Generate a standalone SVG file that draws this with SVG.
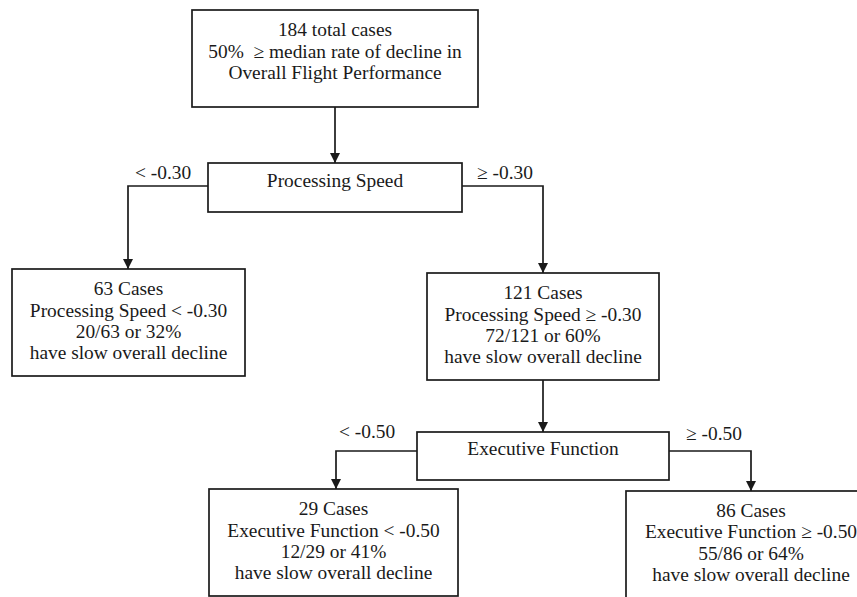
<svg xmlns="http://www.w3.org/2000/svg" width="857" height="597" viewBox="0 0 857 597">
<style>
  .box { fill: #ffffff; stroke: #1a1a1a; stroke-width: 1.7; }
  .t { font-family: "Liberation Serif", "Times New Roman", serif; font-size: 19.4px; fill: #1a1a1a; text-anchor: middle; }
  .lbl { font-family: "Liberation Serif", "Times New Roman", serif; font-size: 19.4px; fill: #1a1a1a; text-anchor: start; }
  .edge { fill: none; stroke: #1a1a1a; stroke-width: 1.7; marker-end: url(#arrow); }
</style>
<defs>
  <marker id="arrow" viewBox="0 0 10 10" refX="10" refY="5" markerWidth="10" markerHeight="10" markerUnits="userSpaceOnUse" orient="auto">
    <path d="M0,0 L10,5 L0,10 Z" fill="#1a1a1a"/>
  </marker>
</defs>
<rect width="857" height="597" fill="#ffffff"/>

<g id="connectors">
  <path class="edge" d="M335,107 L335,163"/>
  <path class="edge" d="M208,186 L128,186 L128,269"/>
  <path class="edge" d="M462,186 L543,186 L543,273"/>
  <path class="edge" d="M543,380 L543,432"/>
  <path class="edge" d="M417,451 L336,451 L336,489"/>
  <path class="edge" d="M669,451 L751,451 L751,491"/>
  <text class="lbl" x="135" y="179">&lt; -0.30</text>
  <text class="lbl" x="477" y="179">≥ -0.30</text>
  <text class="lbl" x="339" y="438">&lt; -0.50</text>
  <text class="lbl" x="686" y="440">≥ -0.50</text>
</g>

<g id="root">
  <rect class="box" x="192" y="10" width="286" height="97"/>
  <text class="t" x="335" y="36">184 total cases</text>
  <text class="t" x="335" y="58">50%&#160; ≥ median rate of decline in</text>
  <text class="t" x="335" y="79">Overall Flight Performance</text>
</g>

<g id="processing-speed">
  <rect class="box" x="208" y="163" width="254" height="49"/>
  <text class="t" x="335" y="187">Processing Speed</text>
</g>

<g id="ps-low">
  <rect class="box" x="12" y="269" width="233" height="107"/>
  <text class="t" x="128.5" y="295">63 Cases</text>
  <text class="t" x="128.5" y="317">Processing Speed &lt; -0.30</text>
  <text class="t" x="128.5" y="338">20/63 or 32%</text>
  <text class="t" x="128.5" y="359">have slow overall decline</text>
</g>

<g id="ps-high">
  <rect class="box" x="427" y="273" width="232" height="107"/>
  <text class="t" x="543" y="299">121 Cases</text>
  <text class="t" x="543" y="321">Processing Speed ≥ -0.30</text>
  <text class="t" x="543" y="342">72/121 or 60%</text>
  <text class="t" x="543" y="363">have slow overall decline</text>
</g>

<g id="executive-function">
  <rect class="box" x="417" y="432" width="252" height="48"/>
  <text class="t" x="543" y="455">Executive Function</text>
</g>

<g id="ef-low">
  <rect class="box" x="209" y="489" width="249" height="107"/>
  <text class="t" x="333.5" y="515">29 Cases</text>
  <text class="t" x="333.5" y="537">Executive Function &lt; -0.50</text>
  <text class="t" x="333.5" y="558">12/29 or 41%</text>
  <text class="t" x="333.5" y="579">have slow overall decline</text>
</g>

<g id="ef-high">
  <rect class="box" x="626" y="491" width="252" height="110"/>
  <text class="t" x="751" y="517">86 Cases</text>
  <text class="t" x="751" y="538">Executive Function ≥ -0.50</text>
  <text class="t" x="751" y="560">55/86 or 64%</text>
  <text class="t" x="751" y="581">have slow overall decline</text>
</g>
</svg>
